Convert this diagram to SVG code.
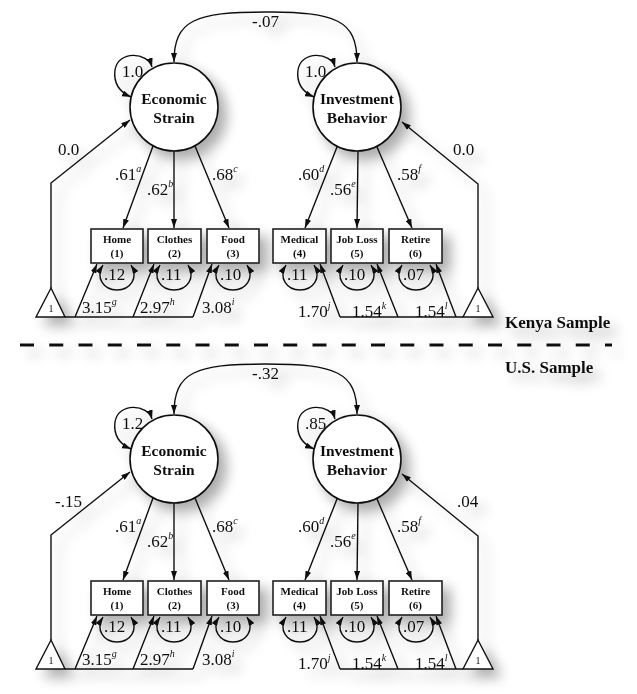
<svg xmlns="http://www.w3.org/2000/svg" width="637" height="694" viewBox="0 0 637 694">
<style>
.ln{fill:none;stroke:#111;stroke-width:1.4}
.ar{marker-end:url(#ah)}
.ar2{marker-start:url(#ah);marker-end:url(#ah)}
.lat{fill:#fff;stroke:#111;stroke-width:1.6}
.box{fill:#fff;stroke:#222;stroke-width:1.6}
.tri{fill:#fff;stroke:#111;stroke-width:1.4}
text{font-family:"Liberation Serif","Times New Roman",serif;fill:#111}
.lbl{font-size:17px}
.sup{font-size:10px;font-style:italic}
.nt{font-size:15.5px;font-weight:bold;text-anchor:middle}
.bt{font-size:11px;font-weight:bold;text-anchor:middle}
.one{font-size:10px;text-anchor:middle}
.ttl{font-size:17px;font-weight:bold}
</style>
<defs>
<marker id="ah" viewBox="0 0 9 6" refX="9" refY="3" markerWidth="9" markerHeight="6" markerUnits="userSpaceOnUse" orient="auto-start-reverse">
<path d="M0,0 L9,3 L0,6 z" fill="#111"/>
</marker>
<filter id="sh" x="-5%" y="-5%" width="115%" height="115%">
<feGaussianBlur in="SourceAlpha" stdDeviation="6.5"/>
<feOffset dx="8" dy="8" result="b"/>
<feComponentTransfer><feFuncA type="linear" slope="0.33"/></feComponentTransfer>
<feMerge><feMergeNode/><feMergeNode in="SourceGraphic"/></feMerge>
</filter>
</defs>
<rect width="637" height="694" fill="#fff"/>
<g filter="url(#sh)">
<!-- ===== Kenya sample ===== -->
<g id="kenya">
<g id="connectors-kenya">
<path class="ln ar2" d="M174,62 C174,20 195,12 265.5,12 C336,12 357,20 357,62"/>
<path class="ln ar2" d="M152,67 C148,52 118,50 115,70 C113,85 122,93 131,97"/>
<path class="ln ar2" d="M335,67 C331,52 301,50 298,70 C296,85 305,93 314,97"/>
<path class="ln ar" d="M153,146 L123,228"/>
<path class="ln ar" d="M174,151 L174,228"/>
<path class="ln ar" d="M195,146 L229,228"/>
<path class="ln ar" d="M337,147 L305,228"/>
<path class="ln ar" d="M358,151 L357,228"/>
<path class="ln ar" d="M377,147 L412,228"/>
<path class="ln ar" d="M51,288 L51,183 L130,120"/>
<path class="ln ar" d="M478,288 L478,184 L402,122"/>
<path class="ln" d="M65,317 L193,317"/>
<path class="ln ar" d="M75,317 L97,264"/>
<path class="ln ar" d="M133,317 L154,264"/>
<path class="ln ar" d="M193,317 L212,264"/>
<path class="ln" d="M340,317 L463,317"/>
<path class="ln ar" d="M340,317 L320,264"/>
<path class="ln ar" d="M398,317 L377,264"/>
<path class="ln ar" d="M456,317 L436,264"/>
<path class="ln ar2" d="M103,265 C95,278 104,290 117,290 C130,290 139,278 131,265"/>
<path class="ln ar2" d="M160,265 C152,278 161,290 174,290 C187,290 196,278 188,265"/>
<path class="ln ar2" d="M219,265 C211,278 220,290 233,290 C246,290 255,278 247,265"/>
<path class="ln ar2" d="M286,265 C278,278 287,290 300,290 C313,290 322,278 314,265"/>
<path class="ln ar2" d="M343,265 C335,278 344,290 357,290 C370,290 379,278 371,265"/>
<path class="ln ar2" d="M402,265 C394,278 403,290 416,290 C429,290 438,278 430,265"/>
</g>
<g id="es-k"><circle class="lat" cx="174" cy="107" r="44"/><text class="nt" x="174" y="104">Economic</text><text class="nt" x="174" y="123">Strain</text></g>
<g id="ib-k"><circle class="lat" cx="357" cy="107" r="44"/><text class="nt" x="357" y="104">Investment</text><text class="nt" x="357" y="123">Behavior</text></g>
<g id="home-k"><rect class="box" x="91" y="229" width="52" height="34"/><text class="bt" x="117" y="243">Home</text><text class="bt" x="117" y="257">(1)</text></g>
<g id="clothes-k"><rect class="box" x="148" y="229" width="53" height="34"/><text class="bt" x="174.5" y="243">Clothes</text><text class="bt" x="174.5" y="257">(2)</text></g>
<g id="food-k"><rect class="box" x="207" y="229" width="52" height="34"/><text class="bt" x="233" y="243">Food</text><text class="bt" x="233" y="257">(3)</text></g>
<g id="medical-k"><rect class="box" x="273" y="229" width="53" height="34"/><text class="bt" x="299.5" y="243">Medical</text><text class="bt" x="299.5" y="257">(4)</text></g>
<g id="jobloss-k"><rect class="box" x="331" y="229" width="52" height="34"/><text class="bt" x="357" y="243">Job Loss</text><text class="bt" x="357" y="257">(5)</text></g>
<g id="retire-k"><rect class="box" x="389" y="229" width="53" height="34"/><text class="bt" x="415.5" y="243">Retire</text><text class="bt" x="415.5" y="257">(6)</text></g>
<g id="tri-l-k"><path class="tri" d="M51,288 L36,317 L65,317 z"/><text class="one" x="51" y="312">1</text></g>
<g id="tri-r-k"><path class="tri" d="M478,288 L463,317 L493,317 z"/><text class="one" x="478" y="312">1</text></g>
<g id="labels-k">
<text class="lbl" x="252" y="27">-.07</text>
<text class="lbl" x="122" y="77">1.0</text>
<text class="lbl" x="305" y="77">1.0</text>
<text class="lbl" x="58" y="155">0.0</text>
<text class="lbl" x="453" y="155">0.0</text>
<text class="lbl" x="115" y="180">.61<tspan class="sup" dy="-8">a</tspan></text>
<text class="lbl" x="147" y="195">.62<tspan class="sup" dy="-8">b</tspan></text>
<text class="lbl" x="212" y="180">.68<tspan class="sup" dy="-8">c</tspan></text>
<text class="lbl" x="298" y="180">.60<tspan class="sup" dy="-8">d</tspan></text>
<text class="lbl" x="330" y="195">.56<tspan class="sup" dy="-8">e</tspan></text>
<text class="lbl" x="397" y="180">.58<tspan class="sup" dy="-8">f</tspan></text>
<text class="lbl" x="104" y="280">.12</text>
<text class="lbl" x="161" y="280">.11</text>
<text class="lbl" x="220" y="280">.10</text>
<text class="lbl" x="287" y="280">.11</text>
<text class="lbl" x="344" y="280">.10</text>
<text class="lbl" x="403" y="280">.07</text>
<text class="lbl" x="82" y="313">3.15<tspan class="sup" dy="-8">g</tspan></text>
<text class="lbl" x="140" y="313">2.97<tspan class="sup" dy="-8">h</tspan></text>
<text class="lbl" x="202" y="313">3.08<tspan class="sup" dy="-8">i</tspan></text>
<text class="lbl" x="298" y="317">1.70<tspan class="sup" dy="-8">j</tspan></text>
<text class="lbl" x="352" y="317">1.54<tspan class="sup" dy="-8">k</tspan></text>
<text class="lbl" x="415" y="317">1.54<tspan class="sup" dy="-8">l</tspan></text>
</g>
<text class="ttl" x="505" y="328">Kenya Sample</text>
</g>
<line x1="20" y1="345" x2="612" y2="345" stroke="#111" stroke-width="3" stroke-dasharray="14 15.25"/>
<text class="ttl" x="505" y="373">U.S. Sample</text>
<!-- ===== U.S. sample ===== -->
<g id="us" transform="translate(0,352)">
<g id="connectors-us">
<path class="ln ar2" d="M174,62 C174,20 195,12 265.5,12 C336,12 357,20 357,62"/>
<path class="ln ar2" d="M152,67 C148,52 118,50 115,70 C113,85 122,93 131,97"/>
<path class="ln ar2" d="M335,67 C331,52 301,50 298,70 C296,85 305,93 314,97"/>
<path class="ln ar" d="M153,146 L123,228"/>
<path class="ln ar" d="M174,151 L174,228"/>
<path class="ln ar" d="M195,146 L229,228"/>
<path class="ln ar" d="M337,147 L305,228"/>
<path class="ln ar" d="M358,151 L357,228"/>
<path class="ln ar" d="M377,147 L412,228"/>
<path class="ln ar" d="M51,288 L51,183 L130,120"/>
<path class="ln ar" d="M478,288 L478,184 L402,122"/>
<path class="ln" d="M65,317 L193,317"/>
<path class="ln ar" d="M75,317 L97,264"/>
<path class="ln ar" d="M133,317 L154,264"/>
<path class="ln ar" d="M193,317 L212,264"/>
<path class="ln" d="M340,317 L463,317"/>
<path class="ln ar" d="M340,317 L320,264"/>
<path class="ln ar" d="M398,317 L377,264"/>
<path class="ln ar" d="M456,317 L436,264"/>
<path class="ln ar2" d="M103,265 C95,278 104,290 117,290 C130,290 139,278 131,265"/>
<path class="ln ar2" d="M160,265 C152,278 161,290 174,290 C187,290 196,278 188,265"/>
<path class="ln ar2" d="M219,265 C211,278 220,290 233,290 C246,290 255,278 247,265"/>
<path class="ln ar2" d="M286,265 C278,278 287,290 300,290 C313,290 322,278 314,265"/>
<path class="ln ar2" d="M343,265 C335,278 344,290 357,290 C370,290 379,278 371,265"/>
<path class="ln ar2" d="M402,265 C394,278 403,290 416,290 C429,290 438,278 430,265"/>
</g>
<g id="es-u"><circle class="lat" cx="174" cy="107" r="44"/><text class="nt" x="174" y="104">Economic</text><text class="nt" x="174" y="123">Strain</text></g>
<g id="ib-u"><circle class="lat" cx="357" cy="107" r="44"/><text class="nt" x="357" y="104">Investment</text><text class="nt" x="357" y="123">Behavior</text></g>
<g id="home-u"><rect class="box" x="91" y="229" width="52" height="34"/><text class="bt" x="117" y="243">Home</text><text class="bt" x="117" y="257">(1)</text></g>
<g id="clothes-u"><rect class="box" x="148" y="229" width="53" height="34"/><text class="bt" x="174.5" y="243">Clothes</text><text class="bt" x="174.5" y="257">(2)</text></g>
<g id="food-u"><rect class="box" x="207" y="229" width="52" height="34"/><text class="bt" x="233" y="243">Food</text><text class="bt" x="233" y="257">(3)</text></g>
<g id="medical-u"><rect class="box" x="273" y="229" width="53" height="34"/><text class="bt" x="299.5" y="243">Medical</text><text class="bt" x="299.5" y="257">(4)</text></g>
<g id="jobloss-u"><rect class="box" x="331" y="229" width="52" height="34"/><text class="bt" x="357" y="243">Job Loss</text><text class="bt" x="357" y="257">(5)</text></g>
<g id="retire-u"><rect class="box" x="389" y="229" width="53" height="34"/><text class="bt" x="415.5" y="243">Retire</text><text class="bt" x="415.5" y="257">(6)</text></g>
<g id="tri-l-u"><path class="tri" d="M51,288 L36,317 L65,317 z"/><text class="one" x="51" y="312">1</text></g>
<g id="tri-r-u"><path class="tri" d="M478,288 L463,317 L493,317 z"/><text class="one" x="478" y="312">1</text></g>
<g id="labels-u">
<text class="lbl" x="252" y="27">-.32</text>
<text class="lbl" x="122" y="77">1.2</text>
<text class="lbl" x="305" y="77">.85</text>
<text class="lbl" x="55" y="155">-.15</text>
<text class="lbl" x="457" y="155">.04</text>
<text class="lbl" x="115" y="180">.61<tspan class="sup" dy="-8">a</tspan></text>
<text class="lbl" x="147" y="195">.62<tspan class="sup" dy="-8">b</tspan></text>
<text class="lbl" x="212" y="180">.68<tspan class="sup" dy="-8">c</tspan></text>
<text class="lbl" x="298" y="180">.60<tspan class="sup" dy="-8">d</tspan></text>
<text class="lbl" x="330" y="195">.56<tspan class="sup" dy="-8">e</tspan></text>
<text class="lbl" x="397" y="180">.58<tspan class="sup" dy="-8">f</tspan></text>
<text class="lbl" x="104" y="280">.12</text>
<text class="lbl" x="161" y="280">.11</text>
<text class="lbl" x="220" y="280">.10</text>
<text class="lbl" x="287" y="280">.11</text>
<text class="lbl" x="344" y="280">.10</text>
<text class="lbl" x="403" y="280">.07</text>
<text class="lbl" x="82" y="313">3.15<tspan class="sup" dy="-8">g</tspan></text>
<text class="lbl" x="140" y="313">2.97<tspan class="sup" dy="-8">h</tspan></text>
<text class="lbl" x="202" y="313">3.08<tspan class="sup" dy="-8">i</tspan></text>
<text class="lbl" x="298" y="317">1.70<tspan class="sup" dy="-8">j</tspan></text>
<text class="lbl" x="352" y="317">1.54<tspan class="sup" dy="-8">k</tspan></text>
<text class="lbl" x="415" y="317">1.54<tspan class="sup" dy="-8">l</tspan></text>
</g>
</g>
</g>
</svg>
